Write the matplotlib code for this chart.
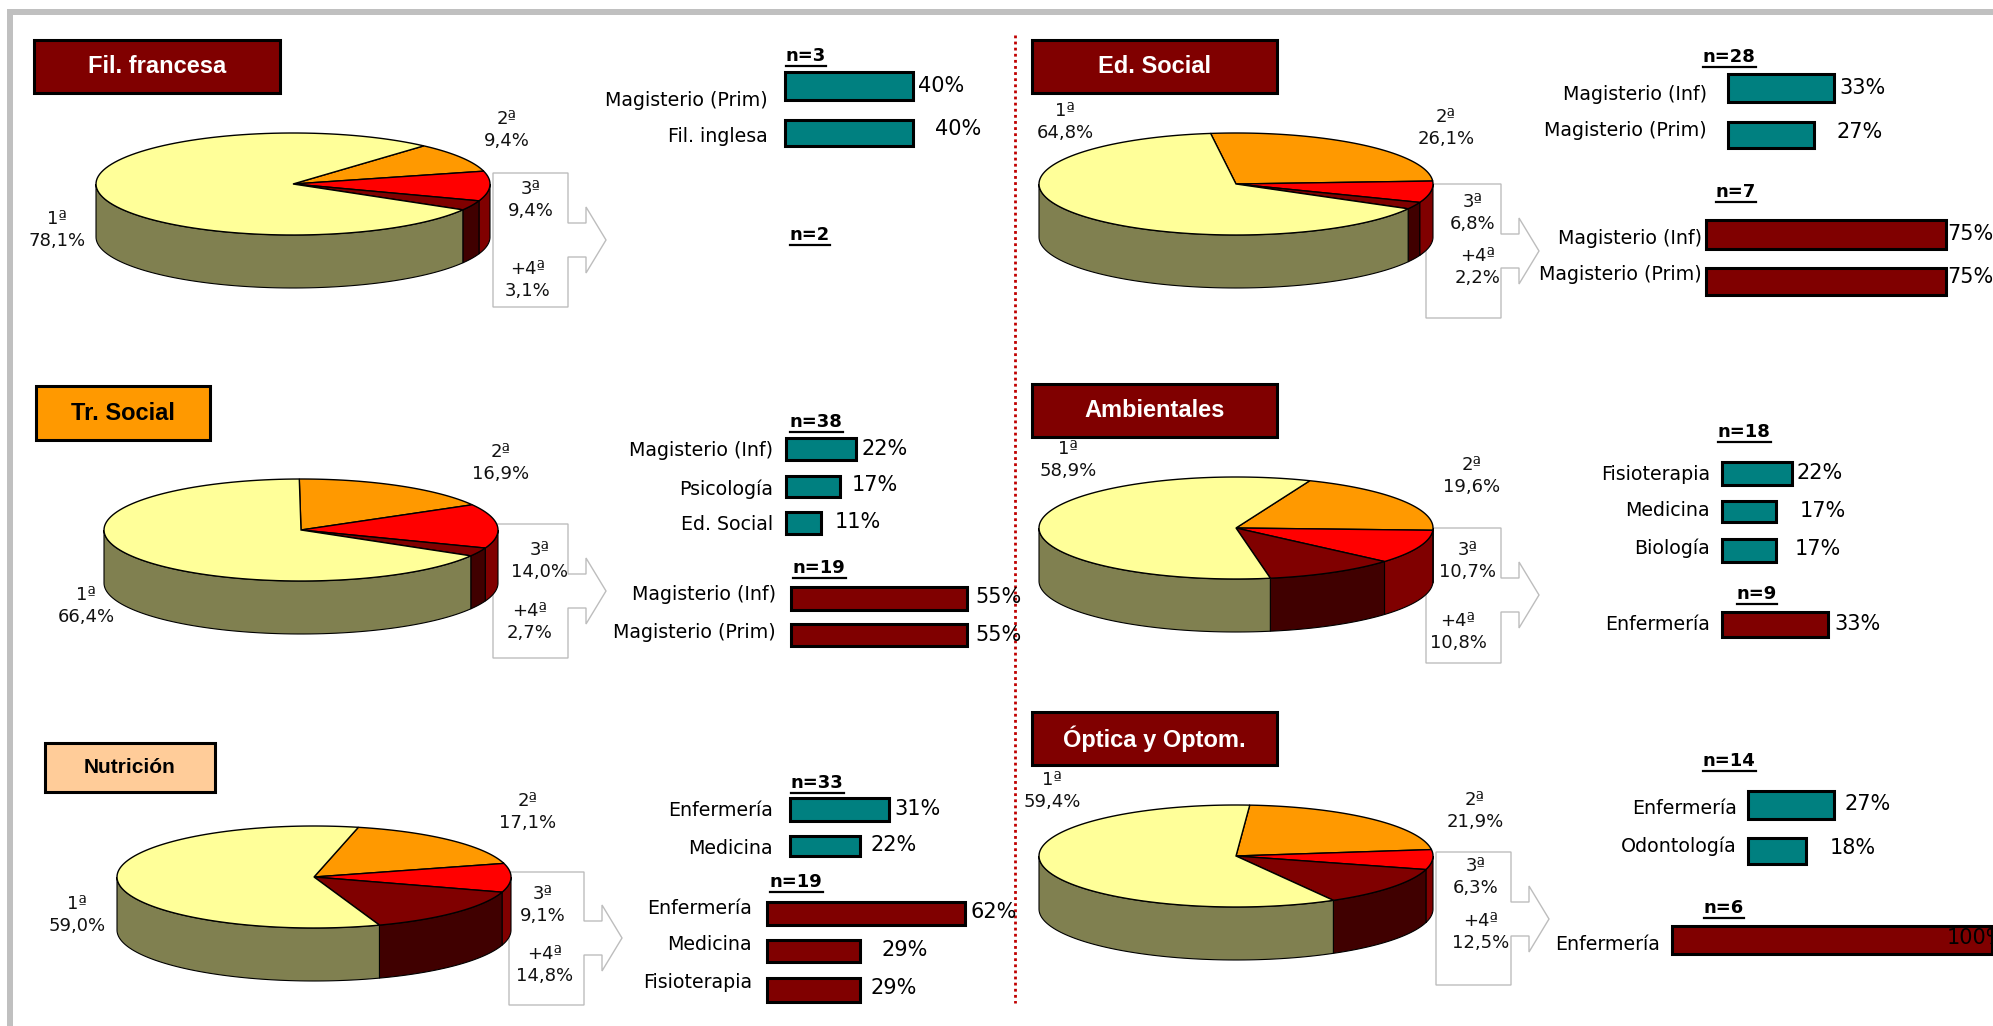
import numpy as np
import matplotlib
matplotlib.use('Agg')
import matplotlib.pyplot as plt
from matplotlib.patches import Polygon, Rectangle

# share of each order of choice, in the order 1a, 2a, 3a, +4a
fil_francesa_shares = [78.1, 9.4, 9.4, 3.1]
tr_social_shares = [66.4, 16.9, 14.0, 2.7]
nutricion_shares = [59.0, 17.1, 9.1, 14.8]
ed_social_shares = [64.8, 26.1, 6.8, 2.2]
ambientales_shares = [58.9, 19.6, 10.7, 10.8]
optica_shares = [59.4, 21.9, 6.3, 12.5]
order_labels = ['1ª', '2ª', '3ª', '+4ª']

# second degree bars: teal group, dark red group
fil_cats_a = ['Magisterio (Prim)', 'Fil. inglesa']
fil_vals_a = [40, 40]
tr_cats_a = ['Magisterio (Inf)', 'Psicología', 'Ed. Social']
tr_vals_a = [22, 17, 11]
tr_cats_b = ['Magisterio (Inf)', 'Magisterio (Prim)']
tr_vals_b = [55, 55]
nut_cats_a = ['Enfermería', 'Medicina']
nut_vals_a = [31, 22]
nut_cats_b = ['Enfermería', 'Medicina', 'Fisioterapia']
nut_vals_b = [62, 29, 29]
ed_cats_a = ['Magisterio (Inf)', 'Magisterio (Prim)']
ed_vals_a = [33, 27]
ed_cats_b = ['Magisterio (Inf)', 'Magisterio (Prim)']
ed_vals_b = [75, 75]
amb_cats_a = ['Fisioterapia', 'Medicina', 'Biología']
amb_vals_a = [22, 17, 17]
amb_cats_b = ['Enfermería']
amb_vals_b = [33]
opt_cats_a = ['Enfermería', 'Odontología']
opt_vals_a = [27, 18]
opt_cats_b = ['Enfermería']
opt_vals_b = [100]

TEAL = '#008080'
DARK = '#800000'
FONT = 'DejaVu Sans'
PX_PER_PCT = 3.2
RX, RY, DEPTH = 197, 51, 53

# top colour / side colour, clockwise from 2a, 1a comes last
slice_top = {1: '#FF9900', 2: '#FF0000', 3: '#800000', 0: '#FFFF99'}
slice_side = {1: '#804C00', 2: '#800000', 3: '#400000', 0: '#808050'}

panels = [
    dict(title='Fil. francesa', box=(34, 40, 280, 93), fill=DARK, tcol='white', tsize=17,
         shares=fil_francesa_shares, cx=293, cy=184, start=41.6,
         call=(493, 173, 307, 240),
         lab=[(57, 230), (507, 130), (531, 200), (528, 280)]),
    dict(title='Tr. Social', box=(36, 386, 210, 440), fill='#FF9900', tcol='black', tsize=17,
         shares=tr_social_shares, cx=301, cy=530, start=-0.5,
         call=(493, 524, 658, 591),
         lab=[(86, 606), (501, 463), (540, 561), (530, 622)]),
    dict(title='Nutrición', box=(45, 743, 215, 792), fill='#FFCC99', tcol='black', tsize=15,
         shares=nutricion_shares, cx=314, cy=877, start=13,
         call=(509, 872, 1005, 938),
         lab=[(77, 915), (528, 812), (543, 905), (545, 965)]),
    dict(title='Ed. Social', box=(1032, 40, 1277, 93), fill=DARK, tcol='white', tsize=17,
         shares=ed_social_shares, cx=1236, cy=184, start=-7.4,
         call=(1426, 184, 318, 251),
         lab=[(1065, 122), (1446, 128), (1473, 213), (1478, 267)]),
    dict(title='Ambientales', box=(1032, 384, 1277, 437), fill=DARK, tcol='white', tsize=17,
         shares=ambientales_shares, cx=1236, cy=528, start=22,
         call=(1426, 528, 663, 595),
         lab=[(1068, 460), (1472, 476), (1468, 561), (1458, 632)]),
    dict(title='Óptica y Optom.', box=(1032, 712, 1277, 765), fill=DARK, tcol='white', tsize=17,
         shares=optica_shares, cx=1236, cy=856, start=4,
         call=(1436, 852, 985, 919),
         lab=[(1052, 791), (1475, 811), (1476, 877), (1481, 932)]),
]

# n label (x, y, text), bar start, then per bar: y centre, height, cat y, value x, value y
groups = [
    dict(n='n=3', nx=786, ny=56, x0=785, col=TEAL, cats=fil_cats_a, vals=fil_vals_a, catx=768,
         ys=[86, 133], hs=[28, 26], caty=[100, 136], vx=[918, 935], vy=[86, 129]),
    dict(n='n=2', nx=790, ny=235, x0=785, col=DARK, cats=[], vals=[], catx=768,
         ys=[], hs=[], caty=[], vx=[], vy=[]),
    dict(n='n=38', nx=790, ny=422, x0=786, col=TEAL, cats=tr_cats_a, vals=tr_vals_a, catx=773,
         ys=[449, 486, 523], hs=[22, 21, 22], caty=[451, 489, 524], vx=[862, 852, 835], vy=[449, 485, 522]),
    dict(n='n=19', nx=793, ny=568, x0=791, col=DARK, cats=tr_cats_b, vals=tr_vals_b, catx=776,
         ys=[598, 635], hs=[23, 22], caty=[595, 632], vx=[975, 975], vy=[597, 635]),
    dict(n='n=33', nx=791, ny=783, x0=790, col=TEAL, cats=nut_cats_a, vals=nut_vals_a, catx=773,
         ys=[809, 846], hs=[23, 20], caty=[811, 848], vx=[894, 871], vy=[809, 845]),
    dict(n='n=19', nx=770, ny=882, x0=767, col=DARK, cats=nut_cats_b, vals=nut_vals_b, catx=752,
         ys=[913, 951, 990], hs=[23, 22, 24], caty=[909, 945, 982], vx=[971, 882, 871], vy=[912, 950, 988]),
    dict(n='n=28', nx=1703, ny=57, x0=1728, col=TEAL, cats=ed_cats_a, vals=ed_vals_a, catx=1707,
         ys=[88, 135], hs=[28, 26], caty=[94, 131], vx=[1839, 1837], vy=[88, 132]),
    dict(n='n=7', nx=1716, ny=192, x0=1706, col=DARK, cats=ed_cats_b, vals=ed_vals_b, catx=1702,
         ys=[234, 281], hs=[29, 27], caty=[238, 275], vx=[1947, 1947], vy=[234, 277]),
    dict(n='n=18', nx=1718, ny=432, x0=1722, col=TEAL, cats=amb_cats_a, vals=amb_vals_a, catx=1710,
         ys=[473, 511, 550], hs=[23, 21, 23], caty=[474, 511, 548], vx=[1797, 1800, 1795], vy=[473, 511, 549]),
    dict(n='n=9', nx=1737, ny=594, x0=1722, col=DARK, cats=amb_cats_b, vals=amb_vals_b, catx=1710,
         ys=[624], hs=[25], caty=[624], vx=[1834], vy=[624]),
    dict(n='n=14', nx=1703, ny=761, x0=1748, col=TEAL, cats=opt_cats_a, vals=opt_vals_a, catx=1737,
         ys=[805, 851], hs=[28, 26], caty=[809, 846], vx=[1845, 1830], vy=[804, 848]),
    dict(n='n=6', nx=1704, ny=908, x0=1672, col=DARK, cats=opt_cats_b, vals=opt_vals_b, catx=1660,
         ys=[940], hs=[28], caty=[944], vx=[1947], vy=[938]),
]


def ell(cx, cy, theta):
    t = np.radians(theta)
    return cx + RX * np.sin(t), cy - RY * np.cos(t)


def draw_pie(ax, p):
    cx, cy = p['cx'], p['cy']
    shares = np.array(p['shares'], dtype=float)
    angles = shares / shares.sum() * 360
    pos = p['start']
    for i in [1, 2, 3, 0]:
        a0, a1 = pos, pos + angles[i]
        pos = a1
        # side wall only on the front half
        s0, s1 = max(a0, 90), min(a1, 270)
        if s1 > s0:
            th = np.linspace(s0, s1, 80)
            x, y = ell(cx, cy, th)
            xy = np.r_[np.c_[x, y], np.c_[x[::-1], y[::-1] + DEPTH]]
            ax.add_patch(Polygon(xy, fc=slice_side[i], ec='black', lw=0.8, zorder=3))
        th = np.linspace(a0, a1, 120)
        x, y = ell(cx, cy, th)
        xy = np.r_[[[cx, cy]], np.c_[x, y]]
        ax.add_patch(Polygon(xy, fc=slice_top[i], ec='black', lw=1.0, zorder=4))


def draw_callout(ax, x0, y0, y1, ym):
    x1, xn, tip = x0 + 75, x0 + 93, x0 + 113
    pts = [(x0, y0), (x1, y0), (x1, ym - 17), (xn, ym - 17), (xn, ym - 33), (tip, ym),
           (xn, ym + 33), (xn, ym + 17), (x1, ym + 17), (x1, y1), (x0, y1)]
    ax.add_patch(Polygon(pts, fc='white', ec='#BDBDBD', lw=1.0, zorder=2))


fig = plt.figure(figsize=(19.93, 10.26), dpi=100)
ax = fig.add_axes([0, 0, 1, 1])
ax.set_xlim(0, 1993)
ax.set_ylim(1026, 0)
ax.axis('off')

# outer grey frame
ax.add_patch(Rectangle((7, 9), 1986, 6, fc='#C0C0C0', ec='none'))
ax.add_patch(Rectangle((7, 9), 6, 1017, fc='#C0C0C0', ec='none'))
ax.plot([1015, 1015], [35, 1003], color='#C00000', lw=2.0, ls=(0, (1, 1.2)), zorder=1)

for p in panels:
    x0, y0, x1, y1 = p['box']
    ax.add_patch(Rectangle((x0, y0), x1 - x0, y1 - y0, fc=p['fill'], ec='black', lw=2.2, zorder=5))
    ax.text((x0 + x1) / 2, (y0 + y1) / 2, p['title'], color=p['tcol'], fontsize=p['tsize'],
            family='Liberation Sans', weight='bold', ha='center', va='center', zorder=6)
    draw_callout(ax, *p['call'])
    draw_pie(ax, p)
    for name, share, (lx, ly) in zip(order_labels, p['shares'], p['lab']):
        pct = ('%.1f%%' % share).replace('.', ',')
        ax.text(lx, ly, name + '\n' + pct, fontsize=13, family=FONT, ha='center', va='center',
                linespacing=1.25, color='#111111', zorder=7)

n_texts = []
for g in groups:
    n_texts.append(ax.text(g['nx'], g['ny'], g['n'], fontsize=13, family=FONT, weight='bold',
                           ha='left', va='center', zorder=7))
    if not g['vals']:
        continue
    widths = np.array(g['vals']) * PX_PER_PCT
    ax.barh(g['ys'], widths, height=g['hs'], left=g['x0'], color=g['col'], edgecolor='black',
            linewidth=2.2, zorder=5)
    for cat, cy in zip(g['cats'], g['caty']):
        ax.text(g['catx'], cy, cat, fontsize=13.7, family=FONT, ha='right', va='center', zorder=7)
    for v, vx, vy in zip(g['vals'], g['vx'], g['vy']):
        ax.text(vx, vy, '%d%%' % v, fontsize=15, family=FONT, ha='left', va='center', zorder=7)

# underline the n= labels from their drawn extents
fig.canvas.draw()
rend = fig.canvas.get_renderer()
for t in n_texts:
    bb = t.get_window_extent(rend).transformed(ax.transData.inverted())
    ax.plot([bb.x0, bb.x1], [max(bb.y0, bb.y1) + 1, max(bb.y0, bb.y1) + 1], color='black', lw=1.6, zorder=7)

fig.savefig('out.png', dpi=100, facecolor='white')
